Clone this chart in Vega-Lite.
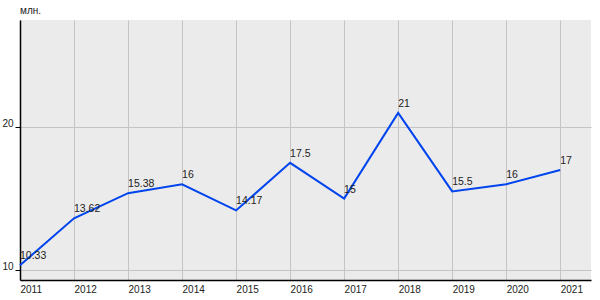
{
  "$schema": "https://vega.github.io/schema/vega-lite/v6.json",
  "width": 571,
  "height": 260,
  "autosize": {"type": "none"},
  "padding": {"left": 20, "top": 20, "right": 9, "bottom": 20},
  "background": "white",
  "config": {
    "view": {"fill": "#EBEBEB", "stroke": null},
    "font": "Liberation Sans"
  },
  "title": {"text": "млн.", "anchor": "start", "frame": "group", "fontSize": 10, "fontWeight": "normal", "color": "#222", "offset": 4},
  "data": {
    "values": [
      {"year": 2011, "value": 10.33, "label": "10.33"},
      {"year": 2012, "value": 13.62, "label": "13.62"},
      {"year": 2013, "value": 15.38, "label": "15.38"},
      {"year": 2014, "value": 16, "label": "16"},
      {"year": 2015, "value": 14.17, "label": "14.17"},
      {"year": 2016, "value": 17.5, "label": "17.5"},
      {"year": 2017, "value": 15, "label": "15"},
      {"year": 2018, "value": 21, "label": "21"},
      {"year": 2019, "value": 15.5, "label": "15.5"},
      {"year": 2020, "value": 16, "label": "16"},
      {"year": 2021, "value": 17, "label": "17"}
    ]
  },
  "encoding": {
    "x": {
      "field": "year", "type": "quantitative",
      "scale": {"domain": [2011, 2021.57], "nice": false, "zero": false},
      "axis": {
        "title": null, "values": [2011,2012,2013,2014,2015,2016,2017,2018,2019,2020,2021],
        "format": "d", "labelAlign": "left", "labelFontSize": 10, "labelColor": "#222",
        "ticks": false, "labelPadding": 4, "domainColor": "#000", "domainWidth": 1.5,
        "gridColor": "#C4C4C4", "gridOpacity": 1, "labelFlush": false
      }
    },
    "y": {
      "field": "value", "type": "quantitative",
      "scale": {"domain": [9.3, 27.5], "nice": false, "zero": false},
      "axis": {
        "title": null, "values": [10, 20], "labelFontSize": 10, "labelColor": "#222",
        "tickSize": 5, "tickColor": "#000", "labelPadding": 2, "labelBaseline": "bottom", "labelOffset": 1,
        "domainColor": "#000", "domainWidth": 1.5,
        "gridColor": "#C4C4C4", "gridOpacity": 1
      }
    }
  },
  "layer": [
    {"mark": {"type": "line", "color": "#0044EE", "strokeWidth": 2}},
    {"mark": {"type": "text", "align": "left", "baseline": "bottom", "dx": 0, "dy": -4, "fontSize": 10.5, "color": "#222"},
     "encoding": {"text": {"field": "label"}}}
  ]
}
